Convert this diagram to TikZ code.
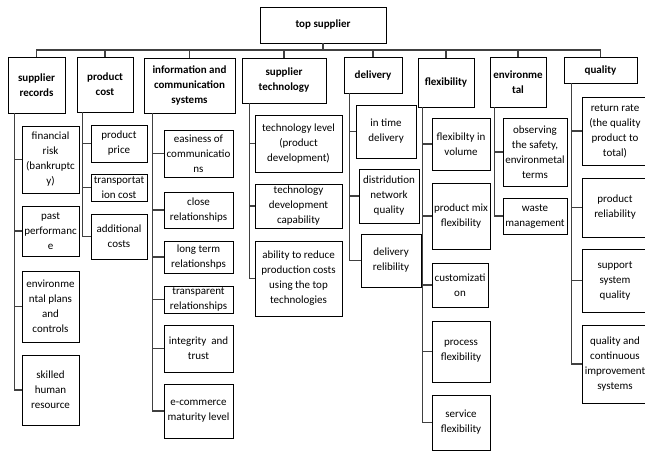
\documentclass[tikz,border=0pt]{standalone}
\usepackage{fontspec}
\setmainfont{Carlito}
\tikzstyle{item} = [draw, line width=0.8pt, align=center, inner sep=0pt, font=\fontsize{11}{15}\selectfont]
\tikzstyle{head} = [item, font=\fontsize{11}{15}\selectfont\bfseries]
\tikzstyle{link} = [line width=1.1pt, black!75]

\begin{document}
\begin{tikzpicture}[x=1pt, y=-1pt]
  \useasboundingbox (0,0) rectangle (645,459);
  \coordinate (bus) at (0,50);
  \node[head, minimum width=126pt, minimum height=36pt] (top) at (323,25) {top supplier};
  % criteria
  \foreach \nm/\xa/\ya/\xb/\yb/\txt in {sr/8/57/65/113/{supplier\\records},
      pc/77/57/133/112/{product\\cost}, ic/144/58/235/113/{information and\\communication\\systems},
      st/242/58/326/103/{supplier\\technology}, dl/344/57/402/93/{delivery},
      fx/418/58/474/107/{flexibility}, en/490/57/546/107/{environme\\tal}, ql/564/57/637/83/{quality}}
  {
    \node[head, minimum width={(\xb-\xa)*1pt}, minimum height={(\yb-\ya)*1pt}] (\nm) at ({(\xa+\xb)/2},{(\ya+\yb)/2}) {\txt};
    \draw[link] (top.south) -- (top.south |- bus) -| (\nm.north);
  }
  % sub-criteria
  \foreach \up/\sx/\nm/\xa/\ya/\xb/\yb/\txt in {
      sr/7/sr1/22/126/79/193/{financial\\risk\\(bankruptc\\y)}, sr/7/sr2/22/206/79/256/{past\\performanc\\e},
      sr/7/sr3/22/271/79/342/{environme\\ntal plans\\and\\controls}, sr/7/sr4/22/355/79/425/{skilled\\human\\resource},
      pc/6/pc1/91/125/147/162/{product\\price}, pc/6/pc2/91/174/147/201/{transportat\\ion cost},
      pc/6/pc3/91/214/147/259/{additional\\costs},
      ic/9/ic1/164/130/233/177/{easiness of\\communicatio\\ns}, ic/9/ic2/164/192/233/228/{close\\relationships},
      ic/9/ic3/164/241/233/273/{long term\\relationshps}, ic/9/ic4/164/286/233/313/{transparent\\relationships},
      ic/9/ic5/164/325/233/372/{integrity~~and\\trust}, ic/9/ic6/164/384/233/438/{e-commerce\\maturity level},
      st/8/st1/255/115/342/172/{technology level\\(product\\development)},
      st/8/st2/255/184/342/228/{technology\\development\\capability},
      st/8/st3/255/241/342/316/{ability to reduce\\production costs\\using the top\\technologies},
      dl/6/dl1/356/105/416/158/{in time\\delivery}, dl/6/dl2/359/169/419/223/{distridution\\network\\quality},
      dl/6/dl3/361/234/421/287/{delivery\\relibility},
      fx/5/fx1/432/118/490/170/{flexibilty in\\volume}, fx/5/fx2/432/183/490/249/{product mix\\flexibility},
      fx/5/fx3/432/263/488/307/{customizati\\on}, fx/5/fx4/432/321/490/382/{process\\flexibility},
      fx/5/fx5/432/395/490/450/{service\\flexibility},
      en/5/en1/503/118/567/186/{observing\\the safety,\\environmetal\\terms}, en/5/en2/503/198/567/234/{waste\\management},
      ql/8/ql1/582/97/648/165/{return rate\\(the quality\\product to\\total)}, ql/8/ql2/582/178/648/237/{product\\reliability},
      ql/8/ql3/582/249/648/312/{support\\system\\quality}, ql/8/ql4/582/325/648/403/{quality and\\continuous\\improvement\\systems}}
  {
    \node[item, minimum width={(\xb-\xa)*1pt}, minimum height={(\yb-\ya)*1pt}] (\nm) at ({(\xa+\xb)/2},{(\ya+\yb)/2}) {\txt};
    \draw[link] ([xshift=\sx pt]\up.south west) |- (\nm.west);
  }
\end{tikzpicture}
\end{document}
